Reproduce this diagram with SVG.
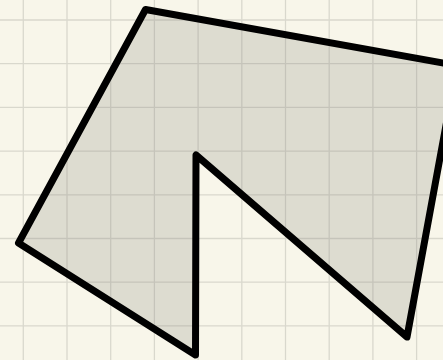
<svg xmlns="http://www.w3.org/2000/svg" width="443" height="360" viewBox="0 0 443 360">
  <style>
    .bg { fill: #f8f6ea; }
    .grid { fill: none; stroke: #000; stroke-opacity: 0.12; stroke-width: 1.3; }
    .shape { fill: #7e7e78; fill-opacity: 0.22; stroke: #000; stroke-width: 7; stroke-linejoin: round; }
  </style>
  <rect class="bg" x="0" y="0" width="443" height="360"/>
  <g id="grid">
    <path class="grid" d="M23.3 0V360M67 0V360M110.7 0V360M154.4 0V360M198.1 0V360M241.8 0V360M285.5 0V360M329.2 0V360M372.9 0V360M416.6 0V360
      M0 20H443M0 63.7H443M0 107.4H443M0 151.1H443M0 194.8H443M0 238.5H443M0 282.2H443M0 325.9H443"/>
  </g>
  <g id="shape">
    <polygon class="shape" points="145.5,9.5 457,65.5 407,337 196,155 195.5,355 18.5,243"/>
  </g>
</svg>
